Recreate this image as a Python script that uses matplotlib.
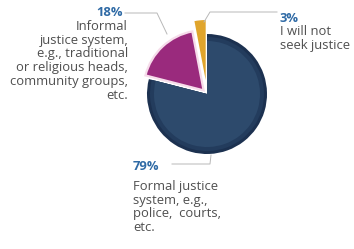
import matplotlib.pyplot as plt

# data
shares = [79, 18, 3]
pct_labels = ["79%", "18%", "3%"]
descriptions = [
    "Formal justice\nsystem, e.g.,\npolice,  courts,\netc.",
    "Informal\njustice system,\ne.g., traditional\nor religious heads,\ncommunity groups,\netc.",
    "I will not\nseek justice",
]
colors = ["#1c3150", "#9a2a7d", "#e0a52c"]

W, H = 354, 249
fig = plt.figure(figsize=(W / 100, H / 100), dpi=100)
ax = fig.add_axes([0, 0, 1, 1])

def Y(y):
    # convert from top-left pixel coords
    return H - y

cx, cy, r = 207, Y(94), 60

wedges, _ = ax.pie(shares, colors=colors, radius=r, center=(cx, cy),
                   startangle=90, counterclock=False,
                   explode=[0, 5, 14], frame=True)
wedges[1].set_edgecolor("#f6dcea")
wedges[1].set_linewidth(1.6)
wedges[2].set_zorder(0)

# lighter inner part of the navy slice (dark rim effect)
ax.pie([shares[0] / 100], colors=["#233c5d"], radius=r - 3, center=(cx, cy),
       startangle=90, counterclock=False, normalize=False, frame=True)
ax.pie([shares[0] / 100], colors=["#2d4a6c"], radius=r - 7, center=(cx, cy),
       startangle=90, counterclock=False, normalize=False, frame=True)
ax.set_xlim(0, W)
ax.set_ylim(0, H)
ax.set_aspect("equal")
ax.axis("off")

font = "Open Sans"
pct_color = "#2f6aa5"
txt_color = "#4f4f4f"
fs = 9.4
ls = 1.07
lw = 0.7
line_color = "#b8b8b8"

# 18% label (right aligned)
ax.text(123, Y(12), pct_labels[1], ha="right", va="center", fontsize=fs,
        fontweight="bold", color=pct_color, family=font)
ax.text(128, Y(20), descriptions[1], ha="right", va="top", fontsize=fs,
        color=txt_color, family=font, linespacing=ls)
ax.plot([125, 157, 167], [Y(13), Y(13), Y(34)], color=line_color, lw=lw)

# 3% label
ax.text(280, Y(18), pct_labels[2], ha="left", va="center", fontsize=fs,
        fontweight="bold", color=pct_color, family=font)
ax.text(280, Y(25), descriptions[2], ha="left", va="top", fontsize=fs,
        color=txt_color, family=font, linespacing=ls)
ax.plot([277, 210, 204], [Y(12), Y(12), Y(22)], color=line_color, lw=lw)

# 79% label
ax.text(133, Y(167), pct_labels[0], ha="left", va="center", fontsize=fs,
        fontweight="bold", color=pct_color, family=font)
ax.text(133, Y(180), descriptions[0], ha="left", va="top", fontsize=fs,
        color=txt_color, family=font, linespacing=ls)
ax.plot([172, 210, 211], [Y(164), Y(164), Y(155)], color=line_color, lw=lw)

fig.savefig("out.png", dpi=100, facecolor="white")
